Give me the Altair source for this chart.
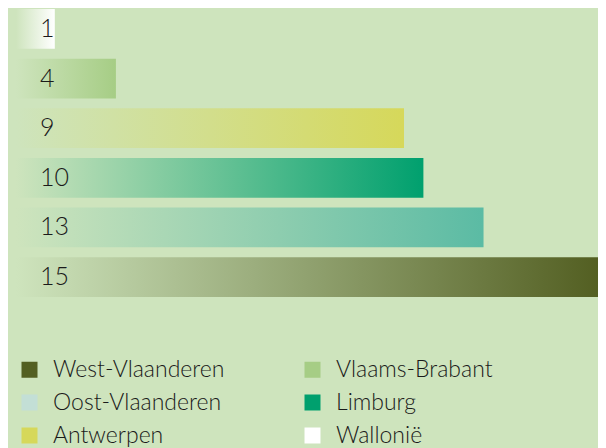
import altair as alt
import pandas as pd

# --- data ---
provinces = ["Wallonië", "Vlaams-Brabant", "Antwerpen", "Limburg", "Oost-Vlaanderen", "West-Vlaanderen"]
labels = [1, 4, 9, 10, 13, 15]
lengths = [2.0, 5.15, 20.0, 21.0, 24.1, 30.0]
bar_end_colors = ["#ffffff", "#a6cd85", "#d6d85a", "#00a06e", "#5bbba4", "#535f22"]

legend_order = ["West-Vlaanderen", "Oost-Vlaanderen", "Antwerpen", "Vlaams-Brabant", "Limburg", "Wallonië"]
legend_colors = ["#535f22", "#c3dfd6", "#d6d85a", "#a6cd85", "#00a06e", "#ffffff"]

BG = "#cee4bd"
FONT = "Lato"

df = pd.DataFrame({"provincie": provinces, "label": labels, "lengte": lengths, "kleur": bar_end_colors})

base = alt.Chart(df)
yenc = alt.Y("provincie:N", sort=provinces, axis=None,
             scale=alt.Scale(paddingInner=0.2, paddingOuter=0))
xscale = alt.Scale(domain=[0, 30], nice=False)

layers = []
for p, c in zip(provinces, bar_end_colors):
    grad = alt.Gradient(
        gradient="linear", x1=0, x2=1, y1=0, y2=0,
        stops=[alt.GradientStop(offset=0, color=BG), alt.GradientStop(offset=1, color=c)],
    )
    layers.append(
        base.transform_filter(alt.datum.provincie == p)
        .mark_bar(fill=grad, strokeWidth=0)
        .encode(x=alt.X("lengte:Q", scale=xscale, axis=None), y=yenc)
    )

# zero-width bars carry the colour legend
legend_layer = base.mark_bar(strokeWidth=0).encode(
    x=alt.datum(0, scale=xscale),
    x2=alt.datum(0),
    y=yenc,
    color=alt.Color(
        "provincie:N",
        scale=alt.Scale(domain=legend_order, range=legend_colors),
        legend=alt.Legend(
            title=None, orient="none", legendX=2, legendY=349, columns=2,
            symbolType="square", symbolSize=256, symbolStrokeWidth=0,
            labelFont=FONT, labelFontWeight=300, labelFontSize=23, labelColor="#1a1a1a",
            labelOffset=12, rowPadding=9, columnPadding=76, padding=0, labelLimit=400,
        ),
    ),
)

text = base.mark_text(align="left", baseline="middle", dx=24, font=FONT,
                      fontWeight=300, fontSize=25, color="#1a1a1a").encode(
    x=alt.datum(0, scale=xscale), y=yenc, text="label:N"
)

chart = alt.layer(*layers, legend_layer, text).properties(
    width=582, height=288,
    padding={"left": 8, "top": 1, "right": 0, "bottom": 151},
    autosize=alt.AutoSizeParams(type="none"),
    background=BG,
).configure_view(stroke=None)

chart.save("out.html", embed_options={"renderer": "svg", "actions": False})
